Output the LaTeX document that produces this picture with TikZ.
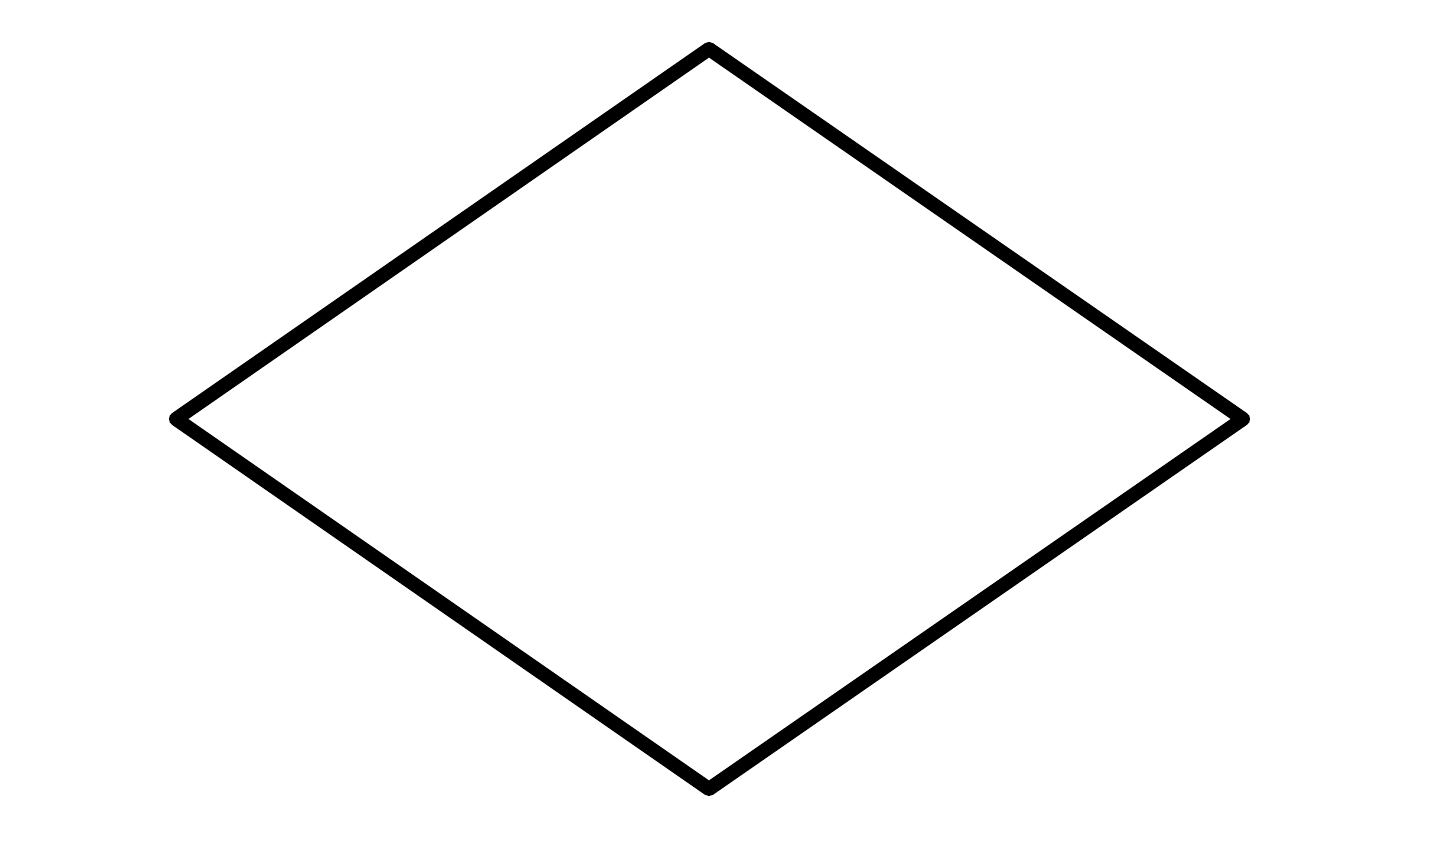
\documentclass[tikz,border=0pt]{standalone}
\usetikzlibrary{positioning}

\begin{document}
\begin{tikzpicture}
\def\xl{1.76};
\def\xm{7.09};
\def\xr{12.43};

\def \yb{0.60};
\def \ym{4.30};
\def \yt{8.00};

\useasboundingbox (0, 0) rectangle (14.4, 8.49);

\coordinate(top) at (\xm, \yt);
\coordinate(lft) at (\xl, \ym);
\coordinate(rgt) at (\xr, \ym);
\coordinate(bot) at (\xm, \yb);

\draw[line width=4pt, line join=round] (top) -- (rgt) -- (bot) -- (lft) -- cycle;

\end{tikzpicture}
\end{document}
